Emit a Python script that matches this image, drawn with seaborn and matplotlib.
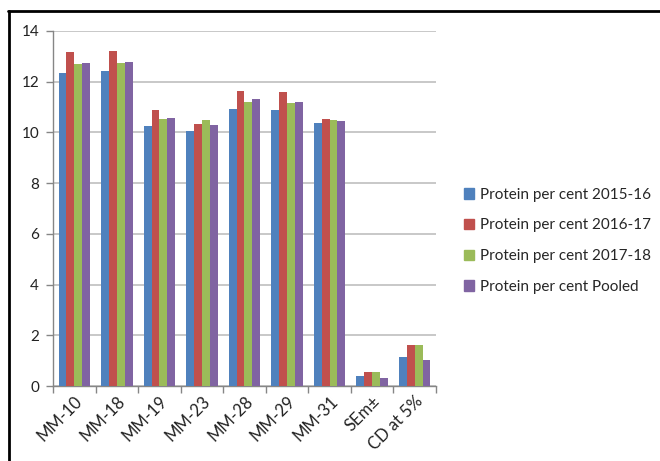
import matplotlib
matplotlib.use("Agg")
import matplotlib.pyplot as plt
from matplotlib.lines import Line2D
import numpy as np
import pandas as pd
import seaborn as sns

# Protein content (%) of mustard entries across seasons
categories = ["MM-10", "MM-18", "MM-19", "MM-23", "MM-28", "MM-29", "MM-31", "SEm±", "CD at 5%"]
protein_2015_16 = [12.33, 12.42, 10.26, 10.07, 10.94, 10.88, 10.37, 0.39, 1.16]
protein_2016_17 = [13.16, 13.20, 10.90, 10.33, 11.62, 11.60, 10.54, 0.56, 1.62]
protein_2017_18 = [12.68, 12.75, 10.51, 10.49, 11.20, 11.17, 10.50, 0.56, 1.62]
protein_pooled = [12.72, 12.77, 10.55, 10.30, 11.30, 11.20, 10.46, 0.33, 1.01]

series_names = [
    "Protein per cent 2015-16",
    "Protein per cent 2016-17",
    "Protein per cent 2017-18",
    "Protein per cent Pooled",
]
series_values = [protein_2015_16, protein_2016_17, protein_2017_18, protein_pooled]
colors = ["#4F81BD", "#C0504D", "#9BBB59", "#8064A2"]
y_ticks = [0, 2, 4, 6, 8, 10, 12, 14]

rows = []
for name, vals in zip(series_names, series_values):
    for cat, v in zip(categories, vals):
        rows.append({"entry": cat, "series": name, "protein": v})
df = pd.DataFrame(rows)

sns.set_theme(style="white")
plt.rcParams["font.family"] = ["Lato", "DejaVu Sans"]

fig = plt.figure(figsize=(6.6, 4.61), dpi=100)
ax = fig.add_axes([53 / 660, 1 - 386 / 461, (436 - 53) / 660, (386 - 31) / 461])

sns.barplot(
    data=df, x="entry", y="protein", hue="series", order=categories,
    hue_order=series_names, palette=colors, width=0.74, gap=0,
    saturation=1, errorbar=None, ax=ax, zorder=3, linewidth=0,
)

ax.set_ylim(0, 14)
ax.set_xlim(-0.5, len(categories) - 0.5)
ax.set_yticks(y_ticks)
ax.set_yticklabels([str(t) for t in y_ticks], fontsize=11, color="#222222")
ax.yaxis.grid(True, color="#C4C4C4", linewidth=1.3, zorder=0)
ax.xaxis.grid(False)
ax.set_axisbelow(True)
ax.set_xlabel("")
ax.set_ylabel("")

# category boundary ticks on the x axis
ax.set_xticks(np.arange(-0.5, len(categories) + 0.5, 1), minor=False)
ax.set_xticklabels([])
ax.set_xticks(np.arange(len(categories)), minor=True)
ax.set_xticklabels(categories, minor=True, rotation=45, ha="right",
                   rotation_mode="anchor", fontsize=12, color="#222222")
ax.tick_params(axis="x", which="major", length=5, width=1, color="#868686", direction="out", bottom=True)
ax.tick_params(axis="x", which="minor", length=0, pad=5)
ax.tick_params(axis="y", length=5, width=1, color="#868686", direction="out", left=True, pad=5)

for side in ["top", "right"]:
    ax.spines[side].set_visible(False)
for side in ["left", "bottom"]:
    ax.spines[side].set_color("#868686")
    ax.spines[side].set_linewidth(1)

handles = [plt.Rectangle((0, 0), 1, 1, color=c) for c in colors]
fig.legend(handles, series_names, loc="upper left",
           bbox_to_anchor=(456 / 660, 1 - 180 / 461), frameon=False,
           fontsize=11, handlelength=0.7, handleheight=0.7,
           handletextpad=0.4, labelspacing=1.1, borderpad=0)
if ax.get_legend() is not None:
    ax.get_legend().remove()

# frame lines along the top and left of the figure
fig.add_artist(Line2D([8 / 660, 1], [1 - 11 / 461, 1 - 11 / 461], color="black", linewidth=2, transform=fig.transFigure))
fig.add_artist(Line2D([9 / 660, 9 / 660], [0, 1 - 11 / 461], color="black", linewidth=2, transform=fig.transFigure))

fig.savefig("out.png", dpi=100)
